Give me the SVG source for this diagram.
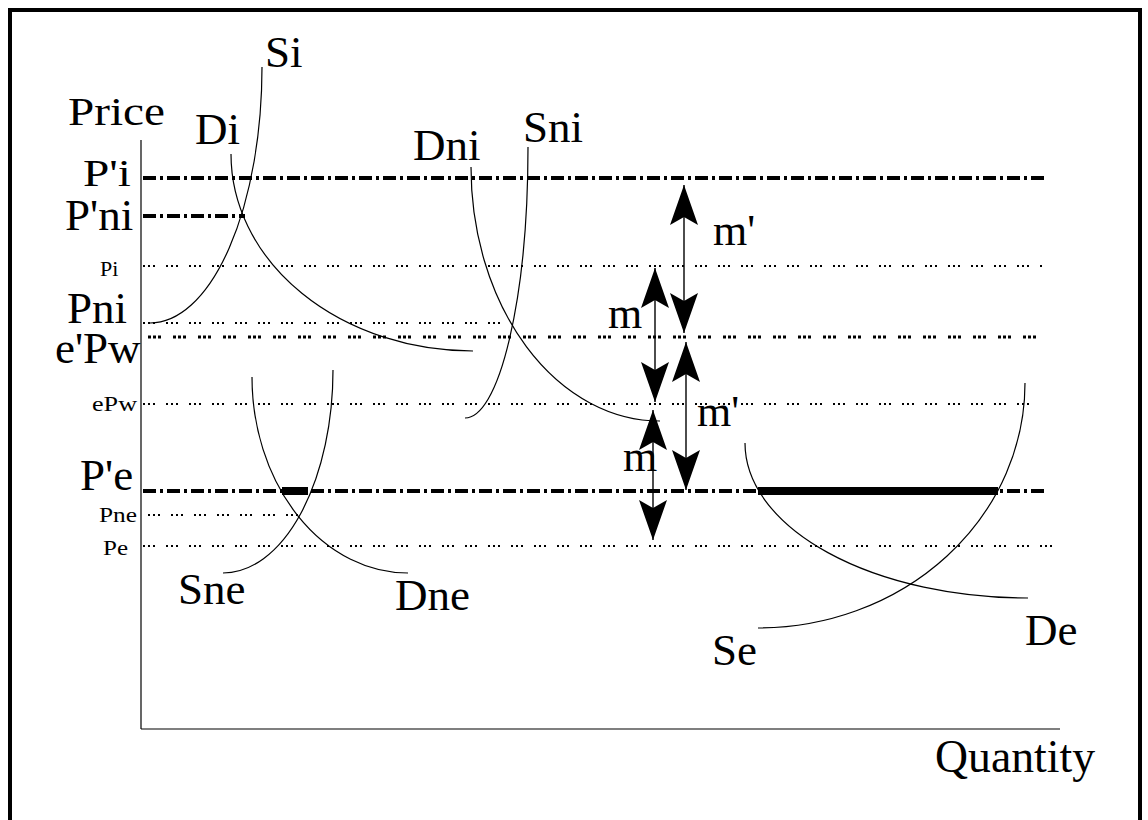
<svg xmlns="http://www.w3.org/2000/svg" width="1148" height="820" viewBox="0 0 1148 820">
<style>
.t{font-family:"Liberation Serif","Times New Roman",serif;font-size:45px;fill:#000}
.s{font-size:22px}
.m{font-size:44px}
.ax{stroke:#000;stroke-width:1.2;fill:none}
.cv{stroke:#000;stroke-width:1.2;fill:none}
.dd{stroke:#000;stroke-width:4;stroke-dasharray:13 4 3 4;fill:none}
.dt{stroke:#000;stroke-width:2;stroke-dasharray:2 3 2 3 2 11;fill:none}
.dt2{stroke:#000;stroke-width:3;stroke-dasharray:3 2 3 2 3 12;fill:none}
.thick{stroke:#000;stroke-width:8;fill:none}
.ar{stroke:#000;stroke-width:1.4;fill:none;marker-start:url(#ah);marker-end:url(#ah)}
</style>
<defs>
<marker id="ah" markerUnits="userSpaceOnUse" viewBox="0 0 40 28" refX="40" refY="14" markerWidth="40" markerHeight="28" orient="auto-start-reverse">
<path d="M40,14 L0,0 L8,14 L0,28 Z" fill="#000"/>
</marker>
</defs>
<rect x="10" y="10" width="1130" height="830" fill="#fff" stroke="#000" stroke-width="4"/>
<g id="axes">
<line class="ax" x1="141" y1="140" x2="141" y2="729"/>
<line class="ax" x1="141" y1="729" x2="1060" y2="729"/>
</g>
<g id="price-lines">
<line class="dd" x1="143" y1="178" x2="1045" y2="178"/>
<line class="dd" x1="143" y1="216" x2="245" y2="216"/>
<line class="dt" x1="143" y1="266" x2="1045" y2="266"/>
<line class="dt" x1="143" y1="323" x2="510" y2="323"/>
<line class="dt2" x1="148" y1="337" x2="1048" y2="337"/>
<line class="dt" x1="143" y1="404" x2="1040" y2="404"/>
<line class="dd" x1="143" y1="491" x2="1045" y2="491"/>
<line class="dt" x1="148" y1="515" x2="300" y2="515"/>
<line class="dt" x1="143" y1="546" x2="1055" y2="546"/>
<line class="thick" x1="282" y1="491" x2="308" y2="491"/>
<line class="thick" x1="758" y1="491" x2="998" y2="491"/>
</g>
<g id="curves">
<path id="Si" class="cv" d="M262,67 A112,256 0 0 1 150,323"/>
<path id="Di" class="cv" d="M231,154 A242,197 0 0 0 473,351"/>
<path id="Dni" class="cv" d="M471,167 A189,254 0 0 0 660,421"/>
<path id="Sni" class="cv" d="M528,147 A63,271 0 0 1 465,418"/>
<path id="Sne" class="cv" d="M333,370 A110,203 0 0 1 223,573"/>
<path id="Dne" class="cv" d="M252,377 A156,196 0 0 0 408,573"/>
<path id="Se" class="cv" d="M1025,383 A267,245 0 0 1 758,628"/>
<path id="De" class="cv" d="M745,443 A283,155 0 0 0 1028,598"/>
</g>
<g id="connectors">
<line class="ar" x1="684" y1="185" x2="684" y2="333"/>
<line class="ar" x1="655" y1="268" x2="655" y2="402"/>
<line class="ar" x1="686" y1="342" x2="686" y2="490"/>
<line class="ar" x1="653" y1="410" x2="653" y2="540"/>
</g>
<g id="labels">
<text class="t" x="265" y="67">Si</text>
<text class="t" x="68" y="125" style="font-size:39px" textLength="97" lengthAdjust="spacingAndGlyphs">Price</text>
<text class="t" x="195" y="144">Di</text>
<text class="t" x="413" y="160">Dni</text>
<text class="t" x="523" y="142">Sni</text>
<text class="t" x="83" y="186" style="font-size:38px" textLength="48" lengthAdjust="spacingAndGlyphs">P'i</text>
<text class="t" x="65" y="230">P'ni</text>
<text class="t s" x="100" y="276">Pi</text>
<text class="t" x="67" y="323">Pni</text>
<text class="t" x="55" y="363">e'Pw</text>
<text class="t s" x="92" y="411" textLength="45" lengthAdjust="spacingAndGlyphs">ePw</text>
<text class="t" x="80" y="490">P'e</text>
<text class="t s" x="99" y="522" textLength="38" lengthAdjust="spacingAndGlyphs">Pne</text>
<text class="t s" x="103" y="555" textLength="25" lengthAdjust="spacingAndGlyphs">Pe</text>
<text class="t" x="178" y="604">Sne</text>
<text class="t" x="395" y="610">Dne</text>
<text class="t" x="712" y="665">Se</text>
<text class="t" x="1025" y="645">De</text>
<text class="t m" x="713" y="245">m'</text>
<text class="t m" x="608" y="328">m</text>
<text class="t m" x="697" y="426">m'</text>
<text class="t m" x="623" y="471">m</text>
<text class="t" x="935" y="772" style="font-size:47px" textLength="160" lengthAdjust="spacingAndGlyphs">Quantity</text>
</g>
</svg>
